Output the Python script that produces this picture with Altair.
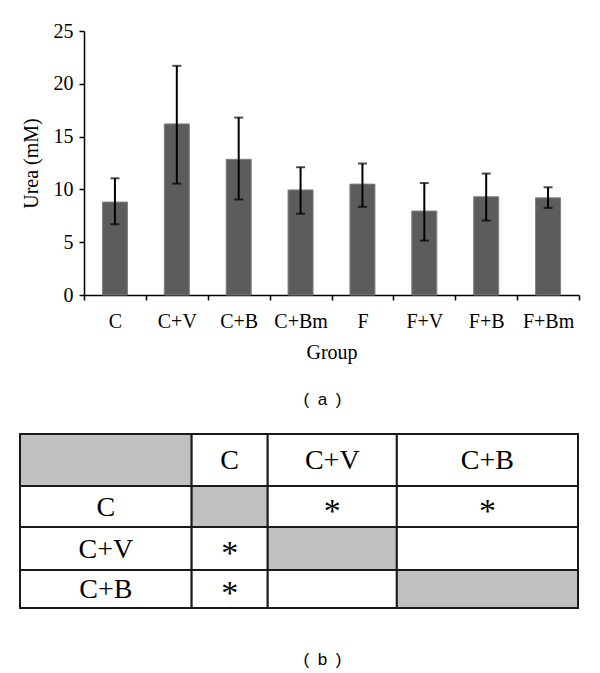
import json
import altair as alt
import pandas as pd

# ---------------- data ----------------
groups = ["C", "C+V", "C+B", "C+Bm", "F", "F+V", "F+B", "F+Bm"]
urea_mean = [8.8, 16.2, 12.85, 9.95, 10.5, 7.95, 9.3, 9.2]
urea_low = [6.7, 10.55, 9.05, 7.7, 8.35, 5.15, 7.05, 8.25]
urea_high = [11.05, 21.7, 16.8, 12.1, 12.45, 10.6, 11.5, 10.2]
y_ticks = [0, 5, 10, 15, 20, 25]

table_cols = ["", "C", "C+V", "C+B"]
table_rows = ["C", "C+V", "C+B"]
significance = [["", "*", "*"],
                ["*", "", ""],
                ["*", "", ""]]

# ---------------- layout / style ----------------
SERIF = "Liberation Serif"
SANS = "Liberation Sans"
col_w = [171.5, 76, 129, 181]
row_h = [52, 41, 43, 38]

bars_df = pd.DataFrame({
    "group": groups,
    "pos": [i + 0.5 for i in range(len(groups))],
    "mean": urea_mean,
    "low": urea_low,
    "high": urea_high,
})

label_js = json.dumps(groups)
tick_vals = [i * 0.5 for i in range(2 * len(groups) + 1)]

x_enc = alt.X(
    "pos:Q",
    scale=alt.Scale(domain=[0, len(groups)], nice=False, zero=False, padding=0),
    axis=alt.Axis(
        values=tick_vals,
        labelExpr=f"datum.value % 1 == 0.5 ? {label_js}[floor(datum.value)] : ''",
        tickOpacity={"condition": {"test": "datum.value % 1 == 0", "value": 1}, "value": 0},
        labelOverlap=False,
        labelFlush=False,
        grid=False,
        tickSize=5,
        labelPadding=11,
        titlePadding=11,
        labelFont=SERIF,
        labelFontSize=20,
        titleFont=SERIF,
        titleFontSize=20,
        titleFontWeight="normal",
        labelColor="black",
        titleColor="black",
    ),
    title="Group",
)

y_scale = alt.Scale(domain=[0, 25], nice=False, padding=0)
y_axis = alt.Axis(
    values=y_ticks,
    grid=False,
    tickSize=5,
    labelPadding=6,
    titlePadding=12,
    labelFont=SERIF,
    labelFontSize=20,
    titleFont=SERIF,
    titleFontSize=20,
    titleFontWeight="normal",
    labelColor="black",
    titleColor="black",
)

base = alt.Chart(bars_df)
bars = base.mark_bar(size=25, color="#5c5c5c", stroke="#7f7f7f", strokeWidth=1).encode(
    x=x_enc,
    y=alt.Y("mean:Q", scale=y_scale, axis=y_axis, title="Urea (mM)"),
)
err = base.mark_rule(color="black", strokeWidth=2).encode(
    x=x_enc,
    y=alt.Y("low:Q", scale=y_scale, axis=y_axis, title="Urea (mM)"),
    y2="high:Q",
)
cap_hi = base.mark_tick(orient="horizontal", size=9, thickness=2, color="black").encode(
    x=x_enc,
    y=alt.Y("high:Q", scale=y_scale, axis=y_axis, title="Urea (mM)"),
)
cap_lo = base.mark_tick(orient="horizontal", size=9, thickness=2, color="black").encode(
    x=x_enc,
    y=alt.Y("low:Q", scale=y_scale, axis=y_axis, title="Urea (mM)"),
)

top = alt.layer(bars, err, cap_hi, cap_lo).properties(
    width=495,
    height=264,
    title=alt.TitleParams("(\u2002a\u2002)", orient="bottom", font=SANS, fontSize=17,
                          fontWeight="normal", offset=30, dx=-9, anchor="middle",
                          color="black"),
)

# ---------------- table ----------------
x_edges = [0]
for w in col_w:
    x_edges.append(x_edges[-1] + w)
y_edges = [0]
for h in row_h:
    y_edges.append(y_edges[-1] + h)

cells = []
for r in range(4):
    for c in range(4):
        if r == 0:
            txt = table_cols[c]
        elif c == 0:
            txt = table_rows[r - 1]
        else:
            txt = significance[r - 1][c - 1]
        cells.append({
            "x0": x_edges[c], "x1": x_edges[c + 1],
            "y0": y_edges[r], "y1": y_edges[r + 1],
            "xm": (x_edges[c] + x_edges[c + 1]) / 2,
            "ym": (y_edges[r] + y_edges[r + 1]) / 2,
            "shade": "gray" if r == c else "white",
            "label": txt,
            "star": txt == "*",
        })
cells_df = pd.DataFrame(cells)

# table spans further left than the bar plot area (starts under the y-axis title)
tx = alt.Scale(domain=[0, x_edges[-1]], range=[-64, 494], nice=False, zero=False, padding=0)
ty = alt.Scale(domain=[0, y_edges[-1]], nice=False, zero=False, reverse=True, padding=0)

tbase = alt.Chart(cells_df)
rects = tbase.mark_rect(stroke="#1a1a1a", strokeWidth=2).encode(
    x=alt.X("x0:Q", scale=tx, axis=None),
    x2="x1:Q",
    y=alt.Y("y0:Q", scale=ty, axis=None),
    y2="y1:Q",
    fill=alt.Fill("shade:N", scale=alt.Scale(domain=["gray", "white"], range=["#c0c0c0", "#ffffff"]), legend=None),
)
words = tbase.transform_filter("!datum.star").mark_text(
    font=SERIF, fontSize=28, color="black", baseline="middle", align="center", dy=1
).encode(
    x=alt.X("xm:Q", scale=tx, axis=None),
    y=alt.Y("ym:Q", scale=ty, axis=None),
    text="label:N",
)
stars = tbase.transform_filter("datum.star").mark_text(
    font=SERIF, fontSize=34, color="black", baseline="middle", align="center", dy=5
).encode(
    x=alt.X("xm:Q", scale=tx, axis=None),
    y=alt.Y("ym:Q", scale=ty, axis=None),
    text="label:N",
)

table = alt.layer(rects, words, stars).properties(
    width=495,
    height=174,
    title=alt.TitleParams("(\u2002b\u2002)", orient="bottom", font=SANS, fontSize=17,
                          fontWeight="normal", offset=41, dx=-9, anchor="middle",
                          color="black"),
)

chart = alt.vconcat(top, table, spacing=25).properties(
    padding={"left": 11, "top": 13, "right": 5, "bottom": 0}
).configure_view(stroke=None).configure_axis(
    domainColor="black", tickColor="black", domainWidth=1.5, tickWidth=1.5
)

chart.save("out.html", embed_options={"renderer": "svg", "actions": False})
